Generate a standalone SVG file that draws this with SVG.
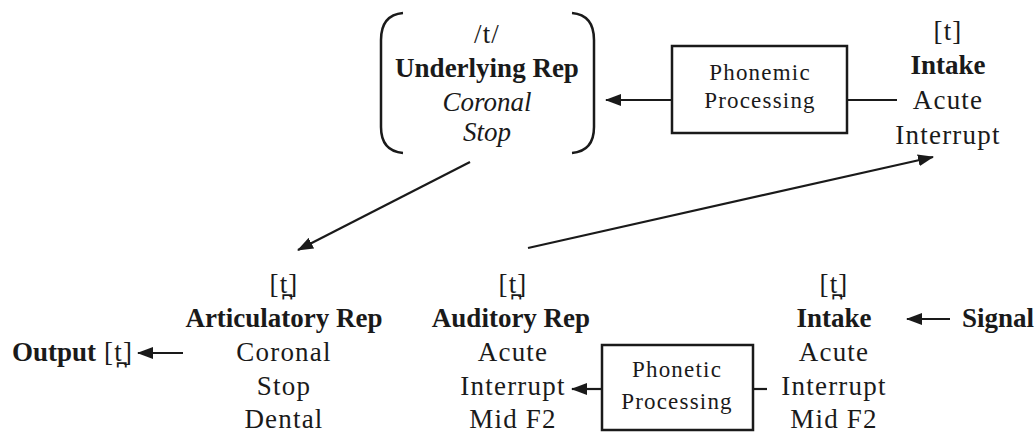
<svg xmlns="http://www.w3.org/2000/svg" width="1036" height="435" viewBox="0 0 1036 435">
  <style>
    text { font-family: "Liberation Serif", "Times New Roman", serif; fill: #1a1a1a; text-anchor: middle; }
    .rm { font-size: 27px; letter-spacing: 1.2px; }
    .bf { font-size: 27px; font-weight: bold; }
    .it { font-size: 27px; font-style: italic; }
    .sm { font-size: 23px; letter-spacing: 1.2px; }
    .box { fill: none; stroke: #1a1a1a; stroke-width: 2.5; }
    .ln { fill: none; stroke: #1a1a1a; stroke-width: 2.2; }
    .arr { fill: none; stroke: #1a1a1a; stroke-width: 2.2; marker-end: url(#head); }
  </style>
  <defs>
    <marker id="head" markerUnits="userSpaceOnUse" markerWidth="16" markerHeight="12" viewBox="0 0 16 12" refX="15" refY="6" orient="auto">
      <path d="M0,0 L16,6 L0,12 Z" fill="#1a1a1a"/>
    </marker>
  </defs>

  <!-- underlying representation in round brackets -->
  <g id="underlying">
    <path class="box" d="M403,13 Q381,15 381,40 L381,127 Q381,151 403,153"/>
    <path class="box" d="M572,13 Q594,15 594,40 L594,127 Q594,151 572,153"/>
    <text class="rm" x="487" y="43">/t/</text>
    <text class="bf" x="487" y="77">Underlying Rep</text>
    <text class="it" x="487" y="111">Coronal</text>
    <text class="it" x="487" y="141">Stop</text>
  </g>

  <g id="phonemic">
    <rect class="box" x="672" y="46" width="175" height="87"/>
    <text class="sm" x="760" y="80">Phonemic</text>
    <text class="sm" x="760" y="108">Processing</text>
  </g>

  <g id="intake-top">
    <text class="rm" x="948" y="40">[t]</text>
    <text class="bf" x="948" y="74">Intake</text>
    <text class="rm" x="948" y="109">Acute</text>
    <text class="rm" x="948" y="144">Interrupt</text>
  </g>

  <g id="articulatory">
    <text class="rm" x="284" y="293">[t̪]</text>
    <text class="bf" x="284" y="327">Articulatory Rep</text>
    <text class="rm" x="284" y="361">Coronal</text>
    <text class="rm" x="284" y="395">Stop</text>
    <text class="rm" x="284" y="428">Dental</text>
  </g>

  <g id="auditory">
    <text class="rm" x="513" y="293">[t̪]</text>
    <text class="bf" x="511" y="327">Auditory Rep</text>
    <text class="rm" x="513" y="361">Acute</text>
    <text class="rm" x="513" y="395">Interrupt</text>
    <text class="rm" x="513" y="428">Mid F2</text>
  </g>

  <g id="phonetic">
    <rect class="box" x="602" y="345" width="151" height="85"/>
    <text class="sm" x="677" y="377">Phonetic</text>
    <text class="sm" x="677" y="409">Processing</text>
  </g>

  <g id="intake-bottom">
    <text class="rm" x="834" y="293">[t̪]</text>
    <text class="bf" x="834" y="327">Intake</text>
    <text class="rm" x="834" y="361">Acute</text>
    <text class="rm" x="834" y="395">Interrupt</text>
    <text class="rm" x="834" y="428">Mid F2</text>
  </g>

  <g id="signal">
    <text class="bf" x="1034" y="327" style="text-anchor:end">Signal</text>
  </g>

  <g id="output">
    <text x="12" y="361" style="text-anchor:start"><tspan class="bf">Output</tspan><tspan class="rm" dx="8">[t̪]</tspan></text>
  </g>

  <g id="connectors">
    <line class="ln" x1="847" y1="100" x2="897" y2="100"/>
    <line class="arr" x1="672" y1="100" x2="606" y2="100"/>
    <line class="arr" x1="470" y1="162" x2="298" y2="250"/>
    <line class="arr" x1="528" y1="248" x2="933" y2="157"/>
    <line class="arr" x1="950" y1="319" x2="907" y2="319"/>
    <line class="ln" x1="753" y1="389" x2="767" y2="389"/>
    <line class="arr" x1="602" y1="389" x2="572" y2="389"/>
    <line class="arr" x1="183" y1="353" x2="138" y2="353"/>
  </g>
</svg>
